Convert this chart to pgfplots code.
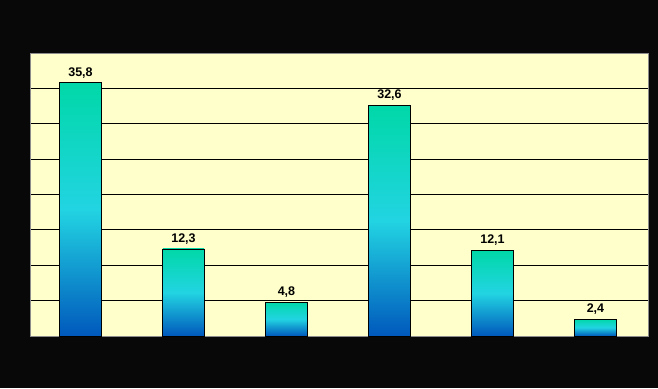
\documentclass[border=0pt]{standalone}
\usepackage{fontspec}
\setmainfont{Liberation Sans}
\usepackage{pgfplots}
\pgfplotsset{compat=1.18}
\definecolor{bgblack}{HTML}{080808}
\definecolor{plotbg}{HTML}{FFFFCC}
\definecolor{topc}{HTML}{00D8A8}
\definecolor{midc}{HTML}{22D4E2}
\definecolor{botc}{HTML}{0058BC}
\begin{document}
\begin{tikzpicture}[x=1pt,y=1pt]
\fill[bgblack] (0,0) rectangle (658,388);
\path[use as bounding box] (0,0) rectangle (658,388);
\begin{axis}[
  at={(30pt,52pt)}, anchor=south west,
  scale only axis, width=618pt, height=283pt,
  xmin=-0.5, xmax=5.5, ymin=0, ymax=40,
  axis background/.style={fill=plotbg},
  axis line style={draw=gray!90, line width=0.8pt},
  ytick={5,10,...,35}, yticklabels={},
  xtick=\empty,
  major tick length=0pt,
  ymajorgrids, grid style={black, line width=1.1pt},
  ybar, bar width=0.4, bar shift=-0.01,
  /pgf/number format/assume math mode=true,
  nodes near coords={\pgfmathprintnumber[fixed,fixed zerofill,precision=1,use comma,assume math mode=true]{\pgfplotspointmeta}},
  every node near coord/.append style={font=\bfseries\fontsize{12.5}{14}\selectfont, text=black, yshift=1pt},
  barstyle/.style={draw=black, line width=0.8pt, top color=topc, bottom color=botc, middle color=midc},
]
\addplot[barstyle] coordinates {(0,35.8)};
\addplot[barstyle] coordinates {(1,12.3)};
\addplot[barstyle] coordinates {(2,4.8)};
\addplot[barstyle] coordinates {(3,32.6)};
\addplot[barstyle] coordinates {(4,12.1)};
\addplot[barstyle] coordinates {(5,2.4)};
\end{axis}
\end{tikzpicture}
\end{document}
